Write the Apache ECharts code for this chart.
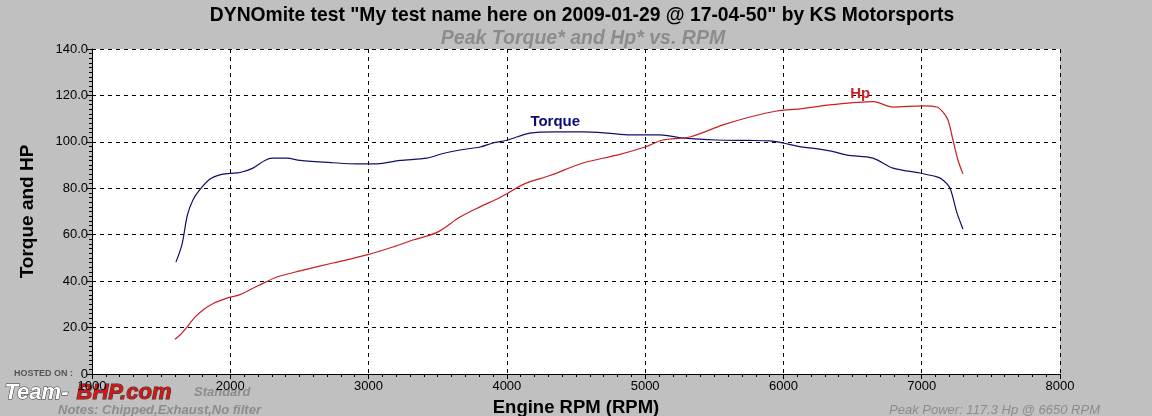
<!DOCTYPE html>
<html><head><meta charset="utf-8">
<script src="https://cdn.jsdelivr.net/npm/echarts@6/dist/echarts.min.js"></script>
<style>html,body{margin:0;padding:0;background:#c0c0c0}#c{width:1152px;height:416px}</style>
</head><body><div id="c"></div>
<script>
var torqueRpm = [1607,1650,1690,1730,1781,1853,1925,1998,2070,2164,2250,2302,2410,2504,2743,2916,3061,3227,3422,3538,3661,3806,3899,4008,4167,4350,4550,4724,4890,5107,5273,5519,5750,5902,5996,6098,6336,6459,6647,6792,6987,7110,7153,7204,7255,7298];
var torqueVals = [48.2,55.6,68.5,75,79.5,84,85.8,86.4,86.8,88.7,92,93,93,92,91,90.5,90.5,92,93,95,96.5,97.8,99.5,100.8,103.8,104.3,104.3,103.8,103.0,103.0,101.7,100.8,100.6,100.4,99.5,98.2,96.1,94.3,93.0,88.7,86.6,84.9,83.6,80.1,69.4,62.5];
var hpRpm = [1600,1640,1687,1745,1803,1880,1976,2070,2200,2338,2504,2743,2988,3176,3321,3495,3661,3806,3950,4131,4312,4550,4796,4999,5129,5324,5563,5758,5953,6119,6336,6650,6792,7009,7110,7153,7190,7226,7262,7298];
var hpVals = [15,17,20.2,24.5,27.6,30.5,32.7,34.2,38,41.8,44.4,47.8,51.3,54.7,57.7,61,67.6,72,76,82,85.5,90.9,94.3,97.8,100.8,102.1,107.3,110.7,113.3,114.2,115.9,117.3,115,115.5,115,112.9,109.4,100.8,92.2,86.2];
var xTicks = [1000,2000,3000,4000,5000,6000,7000,8000];
var yTicks = [0,20,40,60,80,100,120,140];
var titleText = 'DYNOmite test "My test name here on 2009-01-29 @ 17-04-50" by KS Motorsports';
var subText = 'Peak Torque* and Hp* vs. RPM';
var peakText = 'Peak Power: 117.3 Hp @ 6650 RPM';
var notesText = 'Notes: Chipped,Exhaust,No filter';

function pairs(xs, ys){ return xs.map(function(x,i){ return [x, ys[i]]; }); }
var F = '"Liberation Sans", Arial, sans-serif';
var chart = echarts.init(document.getElementById('c'), null, {renderer:'canvas'});
chart.setOption({
  backgroundColor:'#c0c0c0',
  animation:false,
  title:[
    {text:titleText, left:577, textAlign:'center', top:1, textStyle:{fontFamily:F, fontSize:19.3, fontWeight:'bold', color:'#000'}},
    {text:subText, left:578, textAlign:'center', top:24, textStyle:{fontFamily:F, fontSize:19.5, fontWeight:'bold', fontStyle:'italic', color:'#8c8c8c'}}
  ],
  grid:{left:92, right:92, top:49, bottom:42, show:true, backgroundColor:'#fff', borderWidth:0, containLabel:false, outerBoundsMode:'none'},
  xAxis:{type:'value', min:xTicks[0], max:xTicks[xTicks.length-1], interval:1000,
    name:'Engine RPM (RPM)', nameLocation:'middle', nameGap:24,
    nameTextStyle:{fontFamily:F, fontSize:18.5, fontWeight:'bold', color:'#000'},
    axisLine:{lineStyle:{color:'#000', width:1}},
    axisTick:{show:true, length:5, lineStyle:{color:'#000'}},
    minorTick:{show:true, splitNumber:10, length:3, lineStyle:{color:'#000'}},
    axisLabel:{fontFamily:F, fontSize:13, color:'#000', margin:6, formatter:function(v){ return String(v); }},
    splitLine:{show:true, lineStyle:{color:'#000', type:[4,4], width:1}}
  },
  yAxis:{type:'value', min:0, max:140, interval:20,
    name:'Torque and HP', nameLocation:'middle', nameGap:55,
    nameTextStyle:{fontFamily:F, fontSize:19, fontWeight:'bold', color:'#000'},
    axisLine:{show:true, lineStyle:{color:'#000', width:1}},
    axisTick:{show:true, length:5, lineStyle:{color:'#000'}},
    minorTick:{show:true, splitNumber:10, length:3, lineStyle:{color:'#000'}},
    axisLabel:{fontFamily:F, fontSize:13, color:'#000', margin:4,
      formatter:function(v){ return v===0 ? '0' : v.toFixed(1); }},
    splitLine:{show:true, lineStyle:{color:'#000', type:[4,4], width:1}}
  },
  series:[
    {name:'Torque', type:'line', data:pairs(torqueRpm, torqueVals), showSymbol:false, smooth:0.3,
     lineStyle:{color:'#10106a', width:1.2}, itemStyle:{color:'#10106a'},
     markPoint:{symbolSize:0, data:[{coord:[4350,108.4]}],
       label:{show:true, formatter:'Torque', fontFamily:F, fontSize:15, fontWeight:'bold', color:'#0a0a78'}}},
    {name:'Hp', type:'line', data:pairs(hpRpm, hpVals), showSymbol:false, smooth:0.3,
     lineStyle:{color:'#c82020', width:1.2}, itemStyle:{color:'#c82020'},
     markPoint:{symbolSize:0, data:[{coord:[6555,120.6]}],
       label:{show:true, formatter:'Hp', fontFamily:F, fontSize:15, fontWeight:'bold', color:'#d02020'}}}
  ],
  graphic:[
    {type:'text', right:52, bottom:-1, style:{text:peakText, font:'italic 13px '+F, fill:'#8c8c8c'}},
    {type:'text', left:58, bottom:-1, style:{text:notesText, font:'italic bold 13px '+F, fill:'#8c8c8c'}},
    {type:'text', left:194, top:386, style:{text:'Standard', font:'italic bold 13px '+F, fill:'#8c8c8c'}},
    {type:'text', left:14, top:369, style:{text:'HOSTED ON :', font:'bold 9px '+F, fill:'#555'}},
    {type:'text', left:4, top:381, style:{text:'Team-', font:'italic bold 22px '+F, fill:'#fff', stroke:'#333', lineWidth:1}},
    {type:'text', left:76, top:381, style:{text:'BHP.com', font:'italic bold 22px '+F, fill:'#d01818', stroke:'#333', lineWidth:1}}
  ]
});
</script></body></html>
